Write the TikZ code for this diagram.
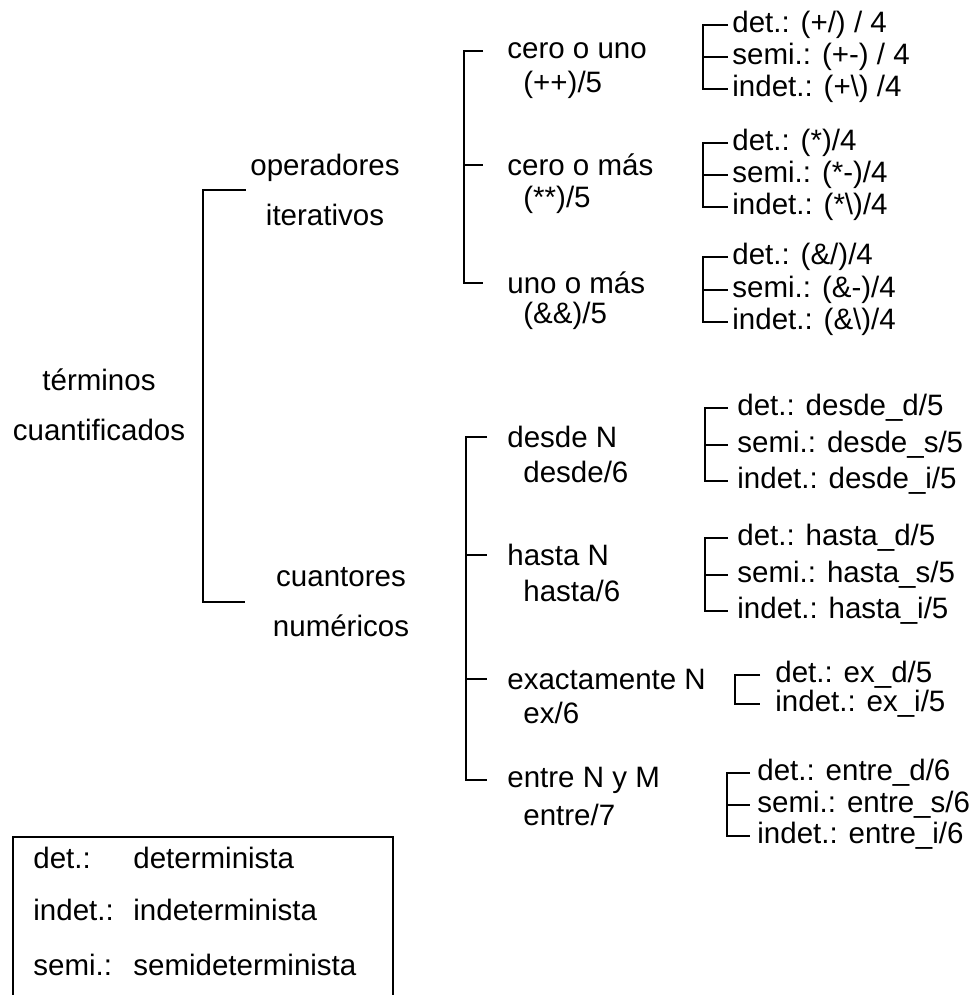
\documentclass[tikz,border=0pt]{standalone}
\usepackage{fontspec}
\setmainfont{Liberation Sans}

\tikzset{
  txt/.style={font=\fontsize{14.75}{25}\selectfont, inner sep=2pt, anchor=west},
  grp/.style={txt, align=center, anchor=center},
  brk/.style={line width=1.2pt},
  leafbrk/.style={line width=1pt},
}

\begin{document}
\begin{tikzpicture}[x=0.5pt, y=-0.5pt]
        \useasboundingbox (0,0) rectangle (972,995);

        \node[grp] (term) at (99,405) {términos\\cuantificados};
        \node[grp] (oper) at (325,190) {operadores\\iterativos};
        \node[grp] (cuan) at (341,602) {cuantores\\numéricos};

        \coordinate (sp0) at (203,394);
        \draw[brk] (oper.west) -| (sp0) |- ([xshift=-12pt]cuan.west);

        \node[txt] (cuno) at (503,51) {cero o uno};
        \node[txt] (cunoc) at (519,85) {(++)/5};
        \node[txt] (cmas) at (503,165) {cero o más};
        \node[txt] (cmasc) at (519,200) {(**)/5};
        \node[txt] (umas) at (503,283) {uno o más};
        \node[txt] (umasc) at (519,316) {(\&\&)/5};

        \coordinate (sp1) at (464,165);
        \draw[brk] ([xshift=-10pt]cuno.west) -| (sp1) |- ([xshift=-10pt]umas.west);
        \draw[brk] (sp1) -- ([xshift=-10pt]cmas.west);

        \node[txt] (desde) at (503,437) {desde N};
        \node[txt] (desdec) at (519,472) {desde/6};
        \node[txt] (hasta) at (503,555) {hasta N};
        \node[txt] (hastac) at (519,591) {hasta/6};
        \node[txt] (exac) at (503,679) {exactamente N};
        \node[txt] (exacc) at (519,713) {ex/6};
        \node[txt] (entre) at (503,780) {entre N y M};
        \node[txt] (entrec) at (519,815) {entre/7};

        \coordinate (sp2) at (466,555);
        \draw[brk] ([xshift=-8pt]desde.west) -| (sp2) |- ([xshift=-8pt]entre.west);
        \draw[brk] (sp2) -- ([xshift=-8pt]hasta.west);
        \draw[brk] (sp2 |- exac.west) -- ([xshift=-8pt]exac.west);

        \node[txt] (det1) at (728,25) {det.: (+/) / 4};
        \node[txt] (semi1) at (728,57) {semi.: (+-) / 4};
        \node[txt] (ind1) at (728,89) {indet.: (+\textbackslash) /4};
        \coordinate (lsp1) at (703,57);
        \draw[leafbrk] (det1.west) -| (lsp1) |- (ind1.west);
        \draw[leafbrk] (lsp1) -- (semi1.west);

        \node[txt] (det2) at (728,143) {det.: (*)/4};
        \node[txt] (semi2) at (728,175) {semi.: (*-)/4};
        \node[txt] (ind2) at (728,207) {indet.: (*\textbackslash)/4};
        \coordinate (lsp2) at (703,175);
        \draw[leafbrk] (det2.west) -| (lsp2) |- (ind2.west);
        \draw[leafbrk] (lsp2) -- (semi2.west);

        \node[txt] (det3) at (728,257) {det.: (\&/)/4};
        \node[txt] (semi3) at (728,290) {semi.: (\&-)/4};
        \node[txt] (ind3) at (728,322) {indet.: (\&\textbackslash)/4};
        \coordinate (lsp3) at (703,290);
        \draw[leafbrk] (det3.west) -| (lsp3) |- (ind3.west);
        \draw[leafbrk] (lsp3) -- (semi3.west);

        \node[txt] (det4) at (733,408) {det.: desde\_d/5};
        \node[txt] (semi4) at (733,445) {semi.: desde\_s/5};
        \node[txt] (ind4) at (733,481) {indet.: desde\_i/5};
        \coordinate (lsp4) at (705,445);
        \draw[leafbrk] ([xshift=-2.5pt]det4.west) -| (lsp4) |- ([xshift=-2.5pt]ind4.west);
        \draw[leafbrk] (lsp4) -- ([xshift=-2.5pt]semi4.west);

        \node[txt] (det5) at (733,538) {det.: hasta\_d/5};
        \node[txt] (semi5) at (733,575) {semi.: hasta\_s/5};
        \node[txt] (ind5) at (733,611) {indet.: hasta\_i/5};
        \coordinate (lsp5) at (705,575);
        \draw[leafbrk] ([xshift=-2.5pt]det5.west) -| (lsp5) |- ([xshift=-2.5pt]ind5.west);
        \draw[leafbrk] (lsp5) -- ([xshift=-2.5pt]semi5.west);

        \node[txt] (det6) at (771,675) {det.: ex\_d/5};
        \node[txt] (ind6) at (771,704) {indet.: ex\_i/5};
        \coordinate (lsp6) at (735,690);
        \draw[leafbrk] ([xshift=-5.5pt]det6.west) -| (lsp6) |- ([xshift=-5.5pt]ind6.west);

        \node[txt] (det7) at (753,773) {det.: entre\_d/6};
        \node[txt] (semi7) at (753,805) {semi.: entre\_s/6};
        \node[txt] (ind7) at (753,836) {indet.: entre\_i/6};
        \coordinate (lsp7) at (727,805);
        \draw[leafbrk] ([xshift=-1.5pt]det7.west) -| (lsp7) |- ([xshift=-1.5pt]ind7.west);
        \draw[leafbrk] (lsp7) -- ([xshift=-1.5pt]semi7.west);

        \draw[leafbrk] (13,1000) -- (13,837) -- (393,837) -- (393,1000);
        \node[txt] (kdet) at (29,858) {det.:};
        \node[txt] (vdet) at (129,858) {determinista};
        \node[txt] (kind) at (29,910) {indet.:};
        \node[txt] (vind) at (129,910) {indeterminista};
        \node[txt] (ksemi) at (29,965) {semi.:};
        \node[txt] (vsemi) at (129,965) {semideterminista};
\end{tikzpicture}
\end{document}
